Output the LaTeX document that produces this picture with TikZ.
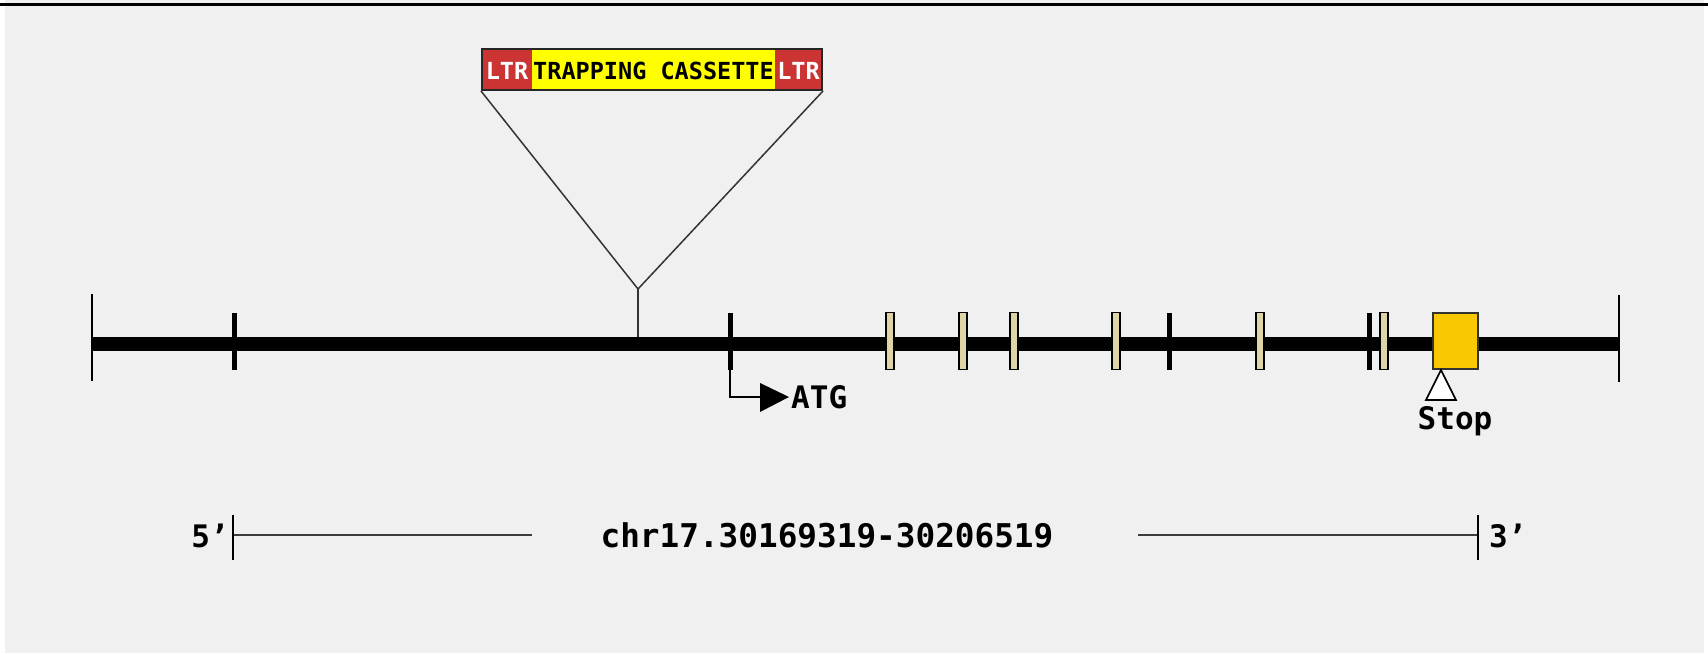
\documentclass[tikz,border=0pt]{standalone}
\usepackage{fontspec}
\newfontfamily\mono{DejaVu Sans Mono}
\definecolor{bg}{RGB}{240,240,240}
\definecolor{ltrred}{RGB}{204,51,51}
\definecolor{casyellow}{RGB}{255,255,0}
\definecolor{exontan}{RGB}{222,212,165}
\definecolor{stopgold}{RGB}{250,200,0}
\definecolor{barline}{RGB}{60,60,60}
\begin{document}
\begin{tikzpicture}[x=1pt,y=-1pt,
  tickbox/.style={fill=black,draw=none,minimum width=5pt,minimum height=57pt,inner sep=0pt},
  exonbox/.style={fill=exontan,draw=black,line width=1.5pt,minimum width=8pt,minimum height=57pt,inner sep=0pt},
  bigexon/.style={fill=stopgold,draw=black!80,line width=2pt,minimum width=45pt,minimum height=56pt,inner sep=0pt},
  lbl/.style={font=\mono\bfseries\fontsize{31}{31}\selectfont,inner sep=0pt,text=black},
  caslbl/.style={font=\mono\bfseries\fontsize{23.5}{23.5}\selectfont,inner sep=0pt},
  vline/.style={line width=1.5pt,black!80}]
\useasboundingbox (0,0) rectangle (1708,655);
\fill[white] (0,0) rectangle (1708,655);
\fill[bg] (5,0) rectangle (1704,653);
\draw[line width=3pt] (0,5) -- (1708,5);

% main gene line
\coordinate (gL) at (92,343.5);
\coordinate (gR) at (1619,343.5);
\draw[line width=14pt] (gL) -- (gR);
\coordinate (eLt) at (92,294); \coordinate (eLb) at (92,381);
\coordinate (eRt) at (1619,295); \coordinate (eRb) at (1619,382);
\draw[line width=2pt] (eLt) -- (eLb);
\draw[line width=2pt] (eRt) -- (eRb);

% black ticks
\node[tickbox] (t1) at (234,341.5) {};
\node[tickbox] (tatg) at (730,341.5) {};
\node[tickbox] (t3) at (1169,341.5) {};
\node[tickbox] (t4) at (1369,341.5) {};

% exons
\node[exonbox] (e1) at (890,341) {};
\node[exonbox] (e2) at (963,341) {};
\node[exonbox] (e3) at (1014,341) {};
\node[exonbox] (e4) at (1116,341) {};
\node[exonbox] (e5) at (1260,341) {};
\node[exonbox] (e6) at (1384,341) {};
\node[bigexon] (stopex) at (1455.5,341) {};

% stop marker
\draw[fill=white,line width=1.6pt] (1441,370) -- (1456,400) -- (1426,400) -- cycle;
\node[lbl,anchor=base] (stop) at (1455,429) {Stop};

% ATG arrow
\coordinate (ac) at (730,397);
\coordinate (ah) at (761,397);
\draw[line width=2.5pt] (tatg.south) -- (ac) -- (ah);
\fill (760,383) -- (789,397) -- (760,412) -- cycle;
\node[lbl,anchor=base west] (atg) at (791,408) {ATG};

% trapping cassette
\node[fill=ltrred,minimum width=50pt,minimum height=41pt,inner sep=0pt] (ltrl) at (507,69.5) {};
\node[fill=casyellow,minimum width=243pt,minimum height=41pt,inner sep=0pt] (cas) at (653.5,69.5) {};
\node[fill=ltrred,minimum width=47pt,minimum height=41pt,inner sep=0pt] (ltrr) at (798.5,69.5) {};
\node[draw=black!85,line width=2pt,minimum width=340pt,minimum height=41pt,inner sep=0pt] (cassette) at (652,69.5) {};
\node[caslbl,text=white,anchor=base] (ltrlt) at (507,80) {LTR};
\node[caslbl,text=black,anchor=base] (cast) at (653.5,80) {TRAPPING CASSETTE};
\node[caslbl,text=white,anchor=base] (ltrrt) at (798.5,80) {LTR};
\coordinate (apex) at (638,289);
\coordinate (ins) at (638,337);
\draw[vline] (cassette.south west) -- (apex) -- (cassette.south east);
\draw[vline] (apex) -- (ins);

% scale bar
\coordinate (b1) at (233,535); \coordinate (b2) at (532,535);
\coordinate (b3) at (1138,535); \coordinate (b4) at (1478,535);
\draw[line width=2pt,barline] (b1) -- (b2);
\draw[line width=2pt,barline] (b3) -- (b4);
\coordinate (b1t) at (233,515); \coordinate (b1b) at (233,560);
\coordinate (b4t) at (1478,515); \coordinate (b4b) at (1478,560);
\draw[line width=2.5pt] (b1t) -- (b1b);
\draw[line width=2.5pt] (b4t) -- (b4b);
\node[lbl,anchor=base east] (five) at (229,547) {5’};
\node[lbl,anchor=base west] (three) at (1489,547) {3’};
\node[lbl,font=\mono\bfseries\fontsize{32.7}{32.7}\selectfont,anchor=base] (chr) at (827,547) {chr17.30169319-30206519};
\end{tikzpicture}
\end{document}
